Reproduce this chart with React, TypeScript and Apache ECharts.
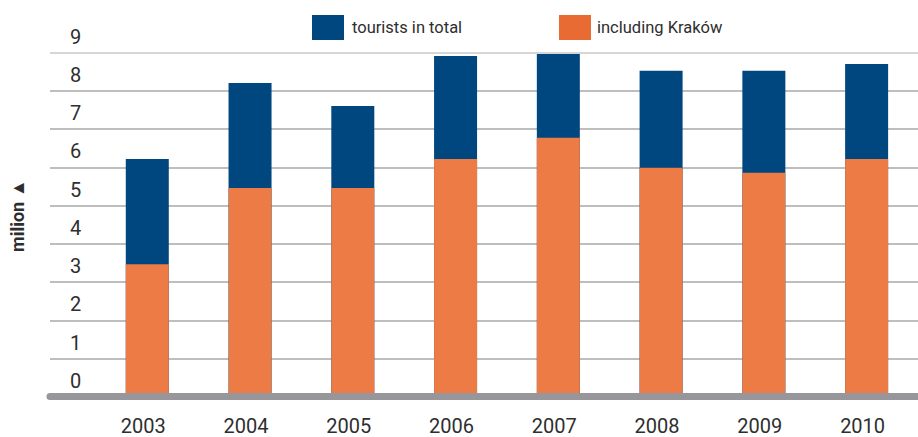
import React, { useEffect, useRef } from "react";
import * as echarts from "echarts";

const years = ["2003", "2004", "2005", "2006", "2007", "2008", "2009", "2010"];
const touristsTotal = [6.22, 8.2, 7.6, 8.91, 8.96, 8.52, 8.52, 8.7];
const includingKrakow = [3.47, 5.46, 5.46, 6.22, 6.77, 5.99, 5.86, 6.22];
const yTicks = [0, 1, 2, 3, 4, 5, 6, 7, 8, 9];

const BLUE = "#00467f";
const ORANGE = "#ec7b45";
const ORANGE_LEGEND = "#e86b33";
const TEXT = "#2e2e2e";
const FONT = "Roboto, 'Noto Sans', sans-serif";

export default function App() {
  const ref = useRef<HTMLDivElement>(null);
  useEffect(() => {
    document.body.style.margin = "0";
    if (!ref.current) return;
    const chart = echarts.init(ref.current, undefined, { renderer: "svg" });
    const top = 52.5;
    const bottom = 40;
    const gridColors = yTicks.map((v) => (v === yTicks[yTicks.length - 1] ? "#c8c8c8" : "#a8a8a8"));
    const legendCommon = {
      top: 15,
      padding: 0,
      itemWidth: 32,
      itemHeight: 25,
      icon: "rect",
      selectedMode: false,
    };
    chart.setOption({
      animation: false,
      backgroundColor: "#ffffff",
      textStyle: { fontFamily: FONT },
      legend: [
        {
          ...legendCommon,
          data: [{ name: "tourists in total", itemStyle: { color: BLUE } }],
          left: 312,
          textStyle: { fontSize: 16.5, color: TEXT, fontFamily: FONT, padding: [0, 0, 0, 3] },
        },
        {
          ...legendCommon,
          data: [{ name: "including Kraków", itemStyle: { color: ORANGE_LEGEND } }],
          left: 559,
          textStyle: { fontSize: 16.5, color: TEXT, fontFamily: FONT, padding: [0, 0, 0, 1] },
        },
      ],
      grid: [
        { left: 95.9, width: 834.3, top, bottom },
        { left: 43, right: 0, top, bottom },
      ],
      xAxis: [
        {
          type: "category",
          gridIndex: 0,
          data: years,
          boundaryGap: true,
          axisLine: { show: false },
          axisTick: { show: false },
          axisLabel: {
            fontSize: 20,
            lineHeight: 20,
            color: TEXT,
            fontFamily: FONT,
            margin: 19,
            padding: [0, 8, 0, 0],
          },
        },
        {
          type: "value",
          gridIndex: 1,
          min: 0,
          max: 1,
          z: 10,
          offset: -1,
          axisLine: { show: true, lineStyle: { color: "#96969b", width: 7 } },
          axisTick: { show: false },
          axisLabel: { show: false },
          splitLine: { show: false },
        },
      ],
      yAxis: [
        {
          type: "value",
          gridIndex: 0,
          min: 0,
          max: 9,
          interval: 1,
          show: false,
          splitLine: { show: false },
        },
        {
          type: "value",
          gridIndex: 1,
          min: 0,
          max: 9,
          interval: 1,
          name: "milion ▲",
          nameLocation: "middle",
          nameRotate: 90,
          nameGap: 24,
          nameTextStyle: {
            fontSize: 18,
            fontWeight: "bold",
            color: TEXT,
            fontFamily: FONT,
            padding: [0, 0, 0, 18],
          },
          axisLine: { show: false },
          axisTick: { show: false },
          axisLabel: {
            inside: true,
            margin: 20,
            align: "left",
            verticalAlign: "bottom",
            lineHeight: 32,
            fontSize: 20,
            color: TEXT,
            fontFamily: FONT,
          },
          splitLine: { show: true, lineStyle: { color: gridColors, width: 1.6 } },
        },
      ],
      series: [
        {
          name: "tourists in total",
          type: "bar",
          xAxisIndex: 0,
          yAxisIndex: 0,
          data: touristsTotal,
          barWidth: 43,
          barGap: "-100%",
          itemStyle: { color: BLUE },
        },
        {
          name: "including Kraków",
          type: "bar",
          xAxisIndex: 0,
          yAxisIndex: 0,
          data: includingKrakow,
          barWidth: 43,
          barGap: "-100%",
          itemStyle: { color: ORANGE },
        },
      ],
    });
    return () => chart.dispose();
  }, []);
  return <div ref={ref} style={{ width: 918, height: 437 }} />;
}
